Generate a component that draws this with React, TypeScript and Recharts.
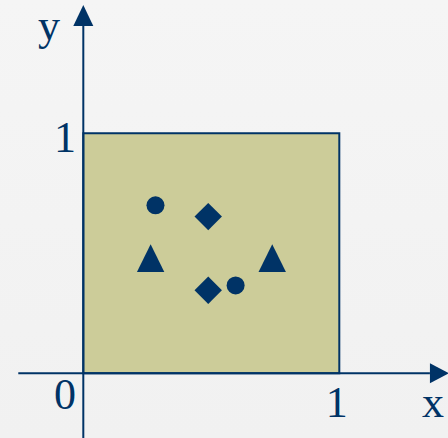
import React from "react"
import { ScatterChart, Scatter, XAxis, YAxis, ReferenceArea, ReferenceLine } from "recharts"

const NAVY = "#003366"

// visible window of the coordinate plane
const X_DOMAIN = [-0.3254, 1.4246]
const Y_DOMAIN = [-0.2696, 1.5554]

const circles = [
  { x: 0.282, y: 0.7 },
  { x: 0.595, y: 0.366 },
]
const diamonds = [
  { x: 0.488, y: 0.653 },
  { x: 0.488, y: 0.346 },
]
const triangles = [
  { x: 0.263, y: 0.48 },
  { x: 0.738, y: 0.48 },
]

const xArrow = [{ x: 1.354, y: 0 }]
const yArrow = [{ x: 0, y: 1.447 }]

const labels = [
  { x: -0.134, y: 1.389, text: "y" },
  { x: -0.0715, y: 0.922, text: "1" },
  { x: -0.0715, y: -0.149, text: "0" },
  { x: 0.99, y: -0.182, text: "1" },
  { x: 1.366, y: -0.182, text: "x" },
]

const Circle = (p: any) => <circle cx={p.cx} cy={p.cy} r={9} fill={NAVY} />

const Diamond = (p: any) => (
  <polygon
    points={`${p.cx},${p.cy - 13.7} ${p.cx + 13.7},${p.cy} ${p.cx},${p.cy + 13.7} ${p.cx - 13.7},${p.cy}`}
    fill={NAVY}
  />
)

const Triangle = (p: any) => (
  <polygon
    points={`${p.cx},${p.cy - 13.8} ${p.cx + 13.7},${p.cy + 13.8} ${p.cx - 13.7},${p.cy + 13.8}`}
    fill={NAVY}
  />
)

const RightArrow = (p: any) => (
  <polygon points={`${p.cx},${p.cy - 10} ${p.cx + 19},${p.cy} ${p.cx},${p.cy + 10}`} fill={NAVY} />
)

const UpArrow = (p: any) => (
  <polygon points={`${p.cx - 10},${p.cy} ${p.cx},${p.cy - 21} ${p.cx + 10},${p.cy}`} fill={NAVY} />
)

const Label = (p: any) => (
  <text
    x={p.cx}
    y={p.cy}
    textAnchor="middle"
    style={{ fill: NAVY, fontSize: 44, fontFamily: '"Liberation Serif", "DejaVu Serif", serif' }}
  >
    {p.payload.text}
  </text>
)

export default function App() {
  return (
    <div
      style={{
        position: "absolute",
        left: 0,
        top: 0,
        width: 448,
        height: 438,
        background: "linear-gradient(#f5f5f5, #f1f1f1)",
      }}
    >
      <ScatterChart width={448} height={438} margin={{ top: 0, right: 0, bottom: 0, left: 0 }}>
        <XAxis type="number" dataKey="x" domain={X_DOMAIN} allowDataOverflow hide />
        <YAxis type="number" dataKey="y" domain={Y_DOMAIN} allowDataOverflow hide />
        <ReferenceArea x1={0} x2={1} y1={0} y2={1} fill="#cccc99" fillOpacity={1} stroke={NAVY} strokeWidth={2} />
        <ReferenceLine segment={[{ x: -0.254, y: 0 }, { x: 1.354, y: 0 }]} stroke={NAVY} strokeWidth={2} />
        <ReferenceLine segment={[{ x: 0, y: -0.2696 }, { x: 0, y: 1.447 }]} stroke={NAVY} strokeWidth={2} />
        <Scatter data={xArrow} shape={RightArrow} isAnimationActive={false} />
        <Scatter data={yArrow} shape={UpArrow} isAnimationActive={false} />
        <Scatter data={circles} shape={Circle} isAnimationActive={false} />
        <Scatter data={diamonds} shape={Diamond} isAnimationActive={false} />
        <Scatter data={triangles} shape={Triangle} isAnimationActive={false} />
        <Scatter data={labels} shape={Label} isAnimationActive={false} />
      </ScatterChart>
    </div>
  )
}
